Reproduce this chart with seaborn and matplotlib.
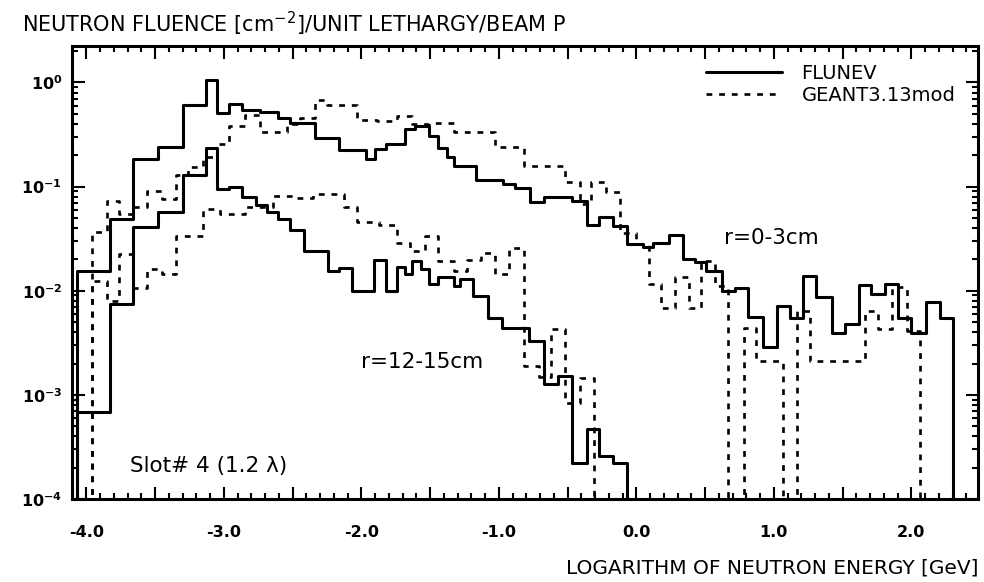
import matplotlib
matplotlib.use("Agg")
import matplotlib.pyplot as plt
from matplotlib.ticker import MultipleLocator, LogLocator, FuncFormatter, NullFormatter
import numpy as np
import pandas as pd
import seaborn as sns

# FLUNEV, r = 0-3 cm (bin edges in log10 E [GeV], fluence per bin)
flunev_inner_edges = [-4.07, -3.83, -3.66, -3.48, -3.30, -3.13, -3.05, -2.96, -2.87, -2.74,
                      -2.61, -2.52, -2.34, -2.16, -1.97, -1.90, -1.82, -1.68, -1.61, -1.51,
                      -1.44, -1.38, -1.33, -1.17, -0.97, -0.88, -0.77, -0.67, -0.47, -0.36,
                      -0.27, -0.17, -0.07, 0.05, 0.12, 0.24, 0.34, 0.43, 0.51, 0.62,
                      0.72, 0.81, 0.92, 1.02, 1.12, 1.21, 1.31, 1.42, 1.52, 1.62,
                      1.71, 1.81, 1.90, 2.00, 2.11, 2.21, 2.30]
flunev_inner = [0.0156, 0.049, 0.185, 0.239, 0.61, 1.05, 0.507, 0.624, 0.538, 0.518,
                0.458, 0.406, 0.294, 0.225, 0.185, 0.231, 0.257, 0.359, 0.386, 0.309,
                0.235, 0.191, 0.156, 0.116, 0.106, 0.097, 0.0706, 0.079, 0.0735, 0.0431,
                0.0508, 0.0422, 0.0282, 0.0262, 0.0289, 0.0346, 0.0203, 0.0188, 0.0156, 0.010,
                0.0106, 0.0056, 0.0029, 0.0072, 0.0055, 0.014, 0.0087, 0.0039, 0.0048, 0.0114,
                0.0094, 0.0117, 0.0055, 0.0039, 0.0078, 0.0055]

# GEANT3.13mod, r = 0-3 cm
geant_inner_edges = [-3.96, -3.85, -3.76, -3.66, -3.56, -3.45, -3.35, -3.26, -3.15, -3.05,
                     -2.96, -2.85, -2.74, -2.54, -2.45, -2.34, -2.25, -2.03, -1.89, -1.74,
                     -1.63, -1.51, -1.33, -1.03, -0.82, -0.52, -0.41, -0.33, -0.22, -0.12,
                     0.00, 0.09, 0.18, 0.28, 0.38, 0.47, 0.57, 0.67, 0.78, 0.87,
                     1.07, 1.17, 1.26, 1.66, 1.76, 1.86, 1.97, 2.06]
geant_inner = [0.0364, 0.0733, 0.0546, 0.0632, 0.0916, 0.0762, 0.128, 0.153, 0.191, 0.257,
               0.386, 0.482, 0.338, 0.395, 0.451, 0.671, 0.61, 0.438, 0.422, 0.476,
               0.403, 0.406, 0.333, 0.242, 0.156, 0.11, 0.068, 0.11, 0.088, 0.036,
               0.028, 0.0116, 0.0069, 0.0136, 0.0069, 0.0194, 0.0112, 0.0, 0.0044, 0.0021,
               0.0, 0.0064, 0.0021, 0.0064, 0.0043, 0.0108, 0.0041]

# FLUNEV, r = 12-15 cm
flunev_outer_edges = [-4.07, -3.83, -3.66, -3.48, -3.30, -3.13, -3.05, -2.96, -2.87, -2.77,
                      -2.69, -2.61, -2.52, -2.42, -2.24, -2.16, -2.07, -1.91, -1.82, -1.74,
                      -1.68, -1.63, -1.57, -1.51, -1.44, -1.33, -1.28, -1.19, -1.08, -0.98,
                      -0.78, -0.67, -0.57, -0.47, -0.36, -0.27, -0.17, -0.07]
flunev_outer = [6.8e-4, 0.00745, 0.0406, 0.0566, 0.128, 0.235, 0.095, 0.0985, 0.0789, 0.0667,
                0.0566, 0.0489, 0.0384, 0.0239, 0.0153, 0.0165, 0.010, 0.0197, 0.010, 0.0168,
                0.0145, 0.0194, 0.0162, 0.0117, 0.0134, 0.0112, 0.0129, 0.0089, 0.0055, 0.0044,
                0.0033, 0.00127, 0.00152, 2.2e-4, 4.7e-4, 2.6e-4, 2.2e-4]

# GEANT3.13mod, r = 12-15 cm
geant_outer_edges = [-3.96, -3.85, -3.76, -3.66, -3.56, -3.45, -3.35, -3.15, -3.03, -2.85,
                     -2.64, -2.50, -2.35, -2.13, -2.03, -1.87, -1.74, -1.65, -1.54, -1.44,
                     -1.33, -1.23, -1.13, -1.03, -0.93, -0.82, -0.71, -0.62, -0.52, -0.41,
                     -0.31]
geant_outer = [0.0125, 0.008, 0.0225, 0.0107, 0.0162, 0.0145, 0.0338, 0.0609, 0.0548, 0.064,
               0.0819, 0.078, 0.085, 0.0634, 0.0452, 0.043, 0.029, 0.0239, 0.0338, 0.0194,
               0.0156, 0.0198, 0.0228, 0.0145, 0.0258, 0.00188, 0.0015, 0.0043, 0.00084, 0.00146]


def steps(edges, values):
    # histogram outline: rises from zero at the first edge, falls back at the last
    return pd.DataFrame({"x": [edges[0]] + list(edges),
                         "y": [0.0] + list(values) + [0.0]})


sns.set_style("ticks")
plt.rcParams["font.family"] = ["DejaVu Sans"]
plt.rcParams["mathtext.default"] = "regular"
plt.rcParams["text.color"] = "black"
plt.rcParams["axes.labelcolor"] = "black"
plt.rcParams["xtick.color"] = "black"
plt.rcParams["ytick.color"] = "black"

fig, ax = plt.subplots(figsize=(9.84, 5.82), dpi=100)
fig.subplots_adjust(left=72 / 984, right=978 / 984, bottom=1 - 499 / 582, top=1 - 46 / 582)

dash = (0, (2.2, 2.6))
curves = [
    (flunev_inner_edges, flunev_inner, "-"),
    (geant_inner_edges, geant_inner, dash),
    (flunev_outer_edges, flunev_outer, "-"),
    (geant_outer_edges, geant_outer, dash),
]
for edges, vals, ls in curves:
    sns.lineplot(data=steps(edges, vals), x="x", y="y", ax=ax, color="black",
                 linewidth=2.2 if ls == "-" else 1.9, linestyle=ls,
                 drawstyle="steps-post", estimator=None, sort=False)

ax.set_yscale("log")
ax.set_xlim(-4.105, 2.485)
ax.set_ylim(1e-4, 10 ** 0.35)

ax.xaxis.set_major_locator(MultipleLocator(0.5))
ax.xaxis.set_minor_locator(MultipleLocator(0.1))
ax.xaxis.set_major_formatter(FuncFormatter(
    lambda v, _: f"{v:.1f}" if abs(v - round(v)) < 1e-6 else ""))
ax.yaxis.set_major_locator(LogLocator(base=10))
ax.yaxis.set_minor_locator(LogLocator(base=10, subs=np.arange(2, 10)))
ax.yaxis.set_minor_formatter(NullFormatter())
ax.yaxis.set_major_formatter(FuncFormatter(
    lambda v, _: rf"$\mathbf{{10^{{{int(round(np.log10(v)))}}}}}$"))

ax.tick_params(which="both", direction="in", top=True, right=True, width=1.5, color="black")
ax.tick_params(which="major", length=9)
ax.tick_params(which="minor", length=4.5)
ax.tick_params(axis="x", which="major", pad=19, labelsize=11.5, labelcolor="black")
ax.tick_params(axis="y", which="major", pad=7, labelsize=11.5, labelcolor="black")
for lab in ax.get_xticklabels():
    lab.set_fontweight("bold")
for sp in ax.spines.values():
    sp.set_linewidth(2.2)
    sp.set_color("black")

ax.set_xlabel("LOGARITHM OF NEUTRON ENERGY [GeV]", loc="right", fontsize=14.5, labelpad=13)
ax.set_ylabel("")
fig.text(22 / 984, 1 - 24 / 582, "NEUTRON FLUENCE [cm$^{-2}$]/UNIT LETHARGY/BEAM P",
         fontsize=15, ha="left", va="center")

ax.text(0.64, 0.032, "r=0-3cm", fontsize=15.5, ha="left", va="center")
ax.text(-2.0, 0.00208, "r=12-15cm", fontsize=15.5, ha="left", va="center")
ax.text(-3.68, 2.07e-4, "Slot# 4 (1.2 λ)", fontsize=15.5, ha="left", va="center")

ax.legend(handles=ax.lines[:2], labels=["FLUNEV", "GEANT3.13mod"], loc="upper right",
          bbox_to_anchor=(0.975, 0.96), frameon=False, fontsize=14, handlelength=3.9,
          handletextpad=1.0, borderpad=0, borderaxespad=0, labelspacing=0.15)

fig.savefig("out.png", dpi=100)
